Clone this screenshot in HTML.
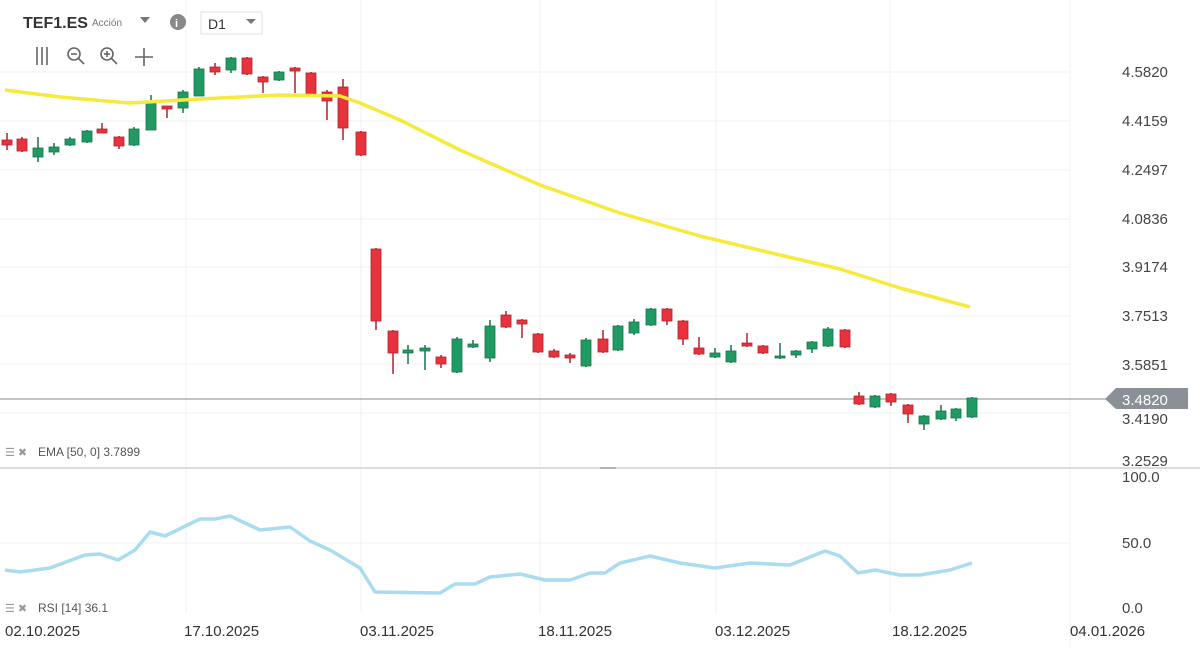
<!DOCTYPE html>
<html><head><meta charset="utf-8"><style>
html,body{margin:0;padding:0;background:#fff;width:1200px;height:648px;overflow:hidden;font-family:"Liberation Sans",sans-serif}
svg{position:absolute;left:0;top:0}
</style></head><body>
<svg id="s" width="1200" height="648" xmlns="http://www.w3.org/2000/svg" font-family="Liberation Sans, sans-serif">
<g stroke="#f1f1f1" stroke-width="1">
<line x1="186" y1="0" x2="186" y2="612"/><line x1="361" y1="0" x2="361" y2="612"/><line x1="540" y1="0" x2="540" y2="612"/><line x1="716" y1="0" x2="716" y2="612"/><line x1="890" y1="0" x2="890" y2="612"/><line x1="1070" y1="0" x2="1070" y2="648"/>
<line x1="0" y1="72" x2="1070" y2="72"/><line x1="0" y1="121" x2="1070" y2="121"/><line x1="0" y1="170" x2="1070" y2="170"/><line x1="0" y1="219" x2="1070" y2="219"/><line x1="0" y1="267" x2="1070" y2="267"/><line x1="0" y1="316" x2="1070" y2="316"/><line x1="0" y1="364" x2="1070" y2="364"/><line x1="0" y1="413" x2="1070" y2="413"/>
<line x1="0" y1="543" x2="1070" y2="543"/>
</g>
<line x1="0" y1="468" x2="1200" y2="468" stroke="#dcdcdc" stroke-width="2"/>
<line x1="600" y1="468" x2="616" y2="468" stroke="#888" stroke-width="1"/>
<line x1="0" y1="399" x2="1110" y2="399" stroke="#888" stroke-width="1"/>
<g id="c"></g>
<polyline fill="none" stroke="#f7ea3c" stroke-width="3.5" stroke-linejoin="round" points="5,90 60,97 130,103 200,99 280,95 340,96 360,103 400,120 460,150 540,185 620,213 700,236 780,255 840,269 900,288 970,307"/>
<polyline fill="none" stroke="#aadcef" stroke-width="3.5" stroke-linejoin="round" points="5,570 20,572 50,568 85,555 100,554 118,560 135,550 150,532 165,536 200,519 215,519 230,516 260,530 290,527 310,541 330,550 360,568 375,592 440,593 455,584 475,584 490,577 520,574 545,580 570,580 590,573 605,573 620,563 650,556 680,563 715,568 750,563 790,565 825,551 840,556 858,573 875,570 900,575 920,575 950,570 972,563"/>
<g fill="#444" font-size="15">
<text x="1122" y="77">4.5820</text><text x="1122" y="126">4.4159</text><text x="1122" y="175">4.2497</text><text x="1122" y="224">4.0836</text><text x="1122" y="272">3.9174</text><text x="1122" y="321">3.7513</text><text x="1122" y="370">3.5851</text><text x="1122" y="424">3.4190</text><text x="1122" y="466">3.2529</text><text x="1122" y="482">100.0</text><text x="1122" y="548">50.0</text><text x="1122" y="613">0.0</text>
</g>
<polygon points="1105,399 1116,388 1188,388 1188,409 1116,409" fill="#8a9096"/>
<text x="1122" y="405" fill="#fff" font-size="15">3.4820</text>
<g fill="#333" font-size="15">
<text x="5" y="636">02.10.2025</text><text x="184" y="636">17.10.2025</text><text x="360" y="636">03.11.2025</text><text x="538" y="636">18.11.2025</text><text x="715" y="636">03.12.2025</text><text x="892" y="636">18.12.2025</text><text x="1070" y="636">04.01.2026</text>
</g>
<g fill="#555" font-size="12">
<text x="38" y="456">EMA [50, 0] 3.7899</text><text x="38" y="612">RSI [14] 36.1</text>
<text x="5" y="456" fill="#999" font-size="11">☰ ✖</text><text x="5" y="612" fill="#999" font-size="11">☰ ✖</text>
</g>
<text x="23" y="28" fill="#333" font-size="16" font-weight="bold">TEF1.ES</text>
<text x="92" y="26" fill="#777" font-size="10">Acción</text>
<polygon points="140,17 150,17 145,23" fill="#777"/>
<circle cx="178" cy="22" r="8" fill="#888"/><text x="175" y="27" fill="#fff" font-size="11" font-weight="bold">i</text>
<rect x="201" y="12" width="61" height="22" fill="#fff" stroke="#e2e2e2"/>
<text x="208" y="29" fill="#333" font-size="14">D1</text>
<polygon points="246,19 256,19 251,24" fill="#777"/>
<g stroke="#666" stroke-width="1.6" fill="none">
<line x1="37" y1="47" x2="37" y2="65"/><line x1="42" y1="47" x2="42" y2="65"/><line x1="47" y1="47" x2="47" y2="65"/>
<circle cx="74" cy="54" r="6"/><line x1="78" y1="58" x2="84" y2="64"/><line x1="71" y1="54" x2="77" y2="54"/>
<circle cx="107" cy="54" r="6"/><line x1="111" y1="58" x2="117" y2="64"/><line x1="104" y1="54" x2="110" y2="54"/><line x1="107" y1="51" x2="107" y2="57"/>
<line x1="135" y1="57" x2="153" y2="57"/><line x1="144" y1="48" x2="144" y2="66"/>
</g>
</svg>
<script>
var d=[[7,'r',140,145,133,150],[22,'r',139,151,137,152],[38,'g',148,157,137,162],[54,'g',147,152,143,155],[70,'g',139,145,137,146],[87,'g',131,142,130,143],[102,'r',129,133,123,133],[119,'r',137,146,136,149],[134,'g',129,145,127,146],[151,'g',101,130,95,130],[167,'r',106,109,106,118],[183,'g',92,108,90,113],[199,'g',69,96,67,96],[215,'r',67,72,63,75],[231,'g',58,70,57,73],[247,'r',58,74,57,75],[263,'r',77,82,76,93],[279,'g',72,80,71,81],[295,'r',68,71,67,93],[311,'r',73,96,72,97],[327,'r',92,101,90,120],[343,'r',87,128,79,140],[361,'r',132,155,131,156],[376,'r',249,321,248,330],[393,'r',331,353,330,374],[408,'g',350,353,345,364],[425,'g',348,351,345,370],[441,'r',357,364,355,368],[457,'g',339,372,337,373],[473,'g',344,347,340,348],[490,'g',326,358,320,362],[506,'r',315,327,311,328],[522,'r',320,324,319,338],[538,'r',334,352,333,353],[554,'r',351,357,349,358],[570,'r',355,358,353,363],[586,'g',340,366,338,367],[603,'r',339,352,330,353],[618,'g',326,350,325,351],[634,'g',322,333,319,335],[651,'g',309,325,308,326],[667,'r',309,321,308,325],[683,'r',321,339,320,345],[699,'r',348,354,337,355],[715,'g',353,357,348,358],[731,'g',351,362,345,363],[747,'r',343,346,333,347],[763,'r',346,353,345,354],[780,'g',356,358,343,359],[796,'g',351,355,350,358],[812,'g',342,349,341,353],[828,'g',329,346,327,347],[845,'r',330,347,329,348],[859,'r',396,404,392,405],[875,'g',396,407,395,408],[891,'r',394,402,393,406],[908,'r',405,414,404,423],[924,'g',416,424,415,430],[941,'g',411,419,405,420],[956,'g',409,418,408,421],[972,'g',398,417,397,418]];
var h='';d.forEach(function(c){var col=c[1]=='r'?'#e8323c':'#1f9a63',st=c[1]=='r'?'#b02030':'#17734a';h+='<line x1="'+c[0]+'" y1="'+c[4]+'" x2="'+c[0]+'" y2="'+c[5]+'" stroke="'+st+'" stroke-width="1.5"/><rect x="'+(c[0]-5)+'" y="'+c[2]+'" width="10" height="'+Math.max(2,c[3]-c[2])+'" fill="'+col+'" stroke="'+st+'" stroke-width="0.8"/>';});
document.getElementById('c').innerHTML=h;
</script>
</body></html>
